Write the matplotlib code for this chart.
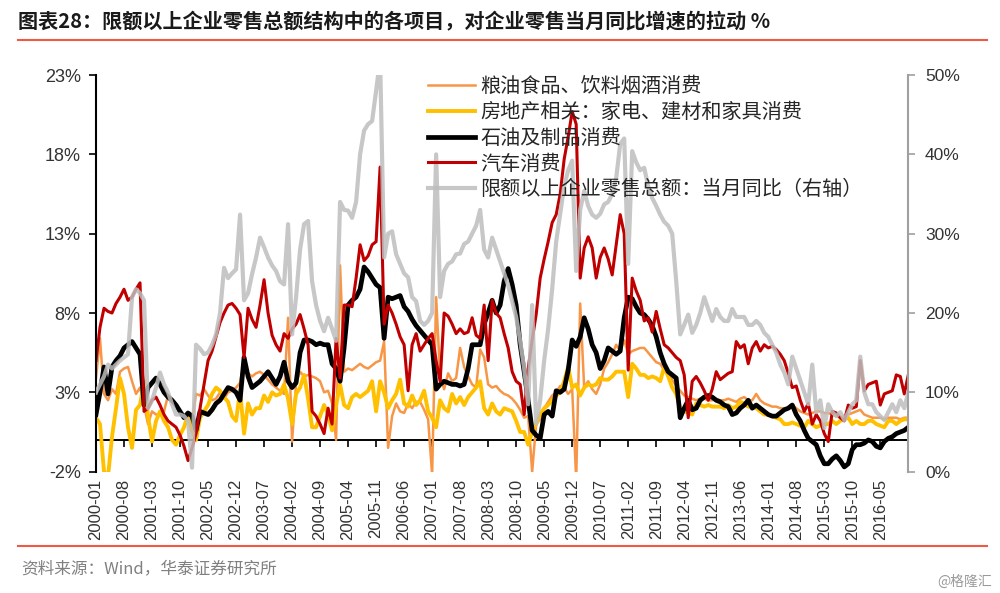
import numpy as np
import pandas as pd
import matplotlib
matplotlib.use('Agg')
import matplotlib.pyplot as plt
from matplotlib.lines import Line2D

plt.rcParams['font.family'] = ['Liberation Sans', 'Noto Sans CJK SC']

# monthly data, 2000-01 .. 2016-12
dates = pd.date_range('2000-01-01', periods=204, freq='MS')

series_names = ['粮油食品、饮料烟酒消费', '房地产相关：家电、建材和家具消费', '石油及制品消费',
                '汽车消费', '限额以上企业零售总额：当月同比（右轴）']

food = [3.9, 6.4, 2.9, 2.5, 3.2, 2.9, 4.3, 4.5, 4.6, 3.7, 2.9, 3.3,
        2.2, 1.0, 1.8, 1.6, 1.6, 1.8, 2.8, 2.6, 2.2, 1.8, 1.5, 1.4,
        1.2, 2.9, 2.8, 3.2, 2.8, 2.5, 2.6, 3.0, 2.6, 3.0, 3.1, 3.3,
        3.6, 5.0, 4.2, 4.0, 4.2, 4.3, 4.1, 3.8, 3.5, 3.3, 3.1, 2.9,
        7.7, -0.1, 3.6, 4.3, 4.0, 4.1, 4.0, 3.9, 3.7, 3.0, 3.1, 2.3,
        0.0, 11.0, 4.3, 4.5, 4.4, 4.6, 4.8, 4.6, 4.5, 4.7, 4.9, 5.0,
        6.2, -0.5, 1.5, 2.3, 1.8, 1.7, 2.3, 2.0, 2.4, 2.4, 1.9, 1.3,
        -2.2, 9.0, 4.0, 3.2, 4.2, 3.7, 3.9, 5.8, 4.6, 4.0, 3.5, 3.3,
        5.7, 5.2, 3.5, 3.3, 3.4, 3.1, 2.9, 2.8, 2.6, 2.3, 1.9, 1.4,
        1.5, -2.0, 1.0, 1.3, 2.0, 2.4, 2.8, 3.0, 3.4, 3.3, 2.9, 3.2,
        -2.5, 8.6, 3.3, 3.7, 3.2, 2.9, 3.5, 4.5, 4.9, 5.4, 6.0, 5.6,
        6.3, 5.4, 5.6, 5.7, 5.8, 5.8, 5.5, 5.2, 4.9, 4.8, 4.4, 4.1,
        3.8, 3.4, 3.1, 2.8, 2.7, 2.6, 2.5, 2.6, 2.6, 2.5, 2.5, 2.6,
        2.5, 2.5, 2.6, 2.5, 2.4, 2.6, 2.7, 2.5, 2.5, 2.9, 2.5, 2.3,
        2.2, 2.1, 2.1, 2.0, 2.0, 2.0, 2.2, 2.0, 1.8, 1.7, 1.6, 1.7,
        1.8, 1.8, 1.7, 1.7, 1.6, 1.5, 1.4, 1.5, 1.6, 1.7, 1.8, 1.9,
        1.6, 1.5, 1.4, 1.4, 1.4, 1.3, 1.4, 1.4, 1.4, 1.3, 1.4, 1.4]

housing = [1.4, 1.0, -2.0, -2.3, 0.2, 2.0, 3.9, 2.9, 0.8, -0.5, 1.9, 2.2,
           3.7, 1.5, -0.1, 1.2, 1.8, 1.2, 0.8, 0.0, -0.3, 0.3, 0.8, 1.6,
           0.6, 0.0, 1.4, 1.8, 2.2, 2.9, 3.3, 3.1, 2.7, 2.4, 1.5, 1.2,
           3.1, 0.4, 2.3, 1.6, 2.0, 2.0, 2.8, 2.4, 3.0, 2.8, 2.9, 3.5,
           2.6, 1.0, 2.9, 3.3, 4.1, 2.6, 0.8, 0.8, 1.5, 2.2, 1.6, 0.6,
           2.2, 3.5, 2.2, 2.0, 2.7, 2.9, 2.7, 2.9, 3.1, 3.7, 1.8, 3.7,
           3.0, 2.0, 2.5, 2.9, 3.8, 2.3, 2.1, 2.8, 2.2, 2.5, 3.1, 1.8,
           1.4, 0.8, 2.5, 2.0, 1.8, 2.9, 2.3, 2.7, 2.2, 2.7, 3.0, 3.3,
           3.7, 2.0, 1.6, 2.3, 1.8, 1.6, 2.0, 1.9, 1.8, 1.2, 0.5, 0.5,
           -0.3, 0.5, 1.0, 1.6, 2.0, 2.2, 2.5, 2.8, 3.0, 3.7, 4.6, 3.3,
           3.5, 2.8, 3.3, 3.5, 3.4, 3.5, 3.9, 3.8, 3.8, 4.0, 4.3, 4.3,
           4.3, 2.7, 4.8, 4.5, 4.1, 4.1, 3.9, 4.0, 3.9, 3.7, 4.6, 4.0,
           3.3, 2.9, 2.0, 1.8, 1.7, 1.6, 2.3, 2.2, 2.1, 2.2, 2.1, 2.1,
           2.1, 2.0, 2.2, 2.0, 2.1, 2.4, 2.3, 2.1, 2.1, 2.0, 1.8, 1.6,
           1.6, 1.5, 1.4, 1.3, 1.0, 1.0, 1.1, 1.0, 0.9, 0.8, 1.2, 1.0,
           0.8, 0.9, 1.0, 1.0, 1.2, 1.0, 1.2, 1.3, 1.4, 1.0, 1.2, 1.0,
           1.0, 1.2, 1.2, 1.0, 0.9, 0.8, 1.2, 1.2, 1.0, 1.2, 1.3, 1.3]

oil = [1.6, 3.0, 4.6, 2.9, 4.6, 5.0, 5.3, 5.8, 6.0, 6.2, 5.8, 5.4,
       2.2, 3.3, 3.6, 3.9, 3.5, 3.0, 2.7, 2.5, 2.2, 1.8, 1.4, 1.7,
       1.5, 0.6, 1.8, 1.7, 1.6, 1.9, 2.3, 2.5, 2.9, 3.3, 3.2, 3.0,
       2.5, 5.2, 4.0, 3.3, 3.5, 3.7, 4.0, 4.3, 3.9, 3.5, 4.0, 4.9,
       3.7, 3.3, 3.6, 5.5, 6.3, 6.3, 6.2, 6.0, 6.1, 6.0, 6.0, 4.8,
       4.5, 3.7, 5.8, 8.5, 8.8, 9.0, 9.5, 10.9, 10.6, 10.2, 9.8, 9.6,
       6.4, 9.0, 8.9, 9.0, 9.1, 8.4, 8.1, 7.6, 7.2, 6.9, 6.6, 6.3,
       6.0, 3.2, 3.5, 3.7, 3.6, 3.5, 3.5, 3.4, 3.5, 4.5, 6.0, 6.0,
       6.0, 7.3, 8.0, 8.8, 8.0, 8.5, 10.0, 10.8, 9.8, 8.5, 6.0, 4.3,
       2.5, 0.6, 0.3, 0.1, 1.6, 1.8, 1.5, 3.1, 3.0, 3.2, 4.4, 6.3,
       5.9, 6.5, 7.7, 7.0, 6.0, 5.5, 4.5, 5.0, 5.8, 5.6, 5.4, 5.6,
       7.7, 9.0, 8.9, 8.4, 8.0, 7.9, 7.6, 7.2, 6.5, 5.5, 4.8, 4.3,
       4.1, 3.9, 1.4, 2.0, 2.5, 1.9, 2.0, 2.5, 2.7, 2.8, 2.7, 2.5,
       2.4, 2.2, 2.1, 1.6, 1.7, 2.0, 2.2, 2.5, 2.0, 2.2, 2.0, 1.8,
       1.6, 1.5, 1.5, 1.7, 1.9, 2.0, 2.2, 1.6, 1.2, 0.6, 0.1, -0.1,
       -0.3, -1.0, -1.5, -1.5, -1.2, -1.0, -1.3, -1.7, -1.5, -0.6, -0.3, -0.3,
       -0.2, 0.0, -0.1, -0.4, -0.5, -0.1, 0.1, 0.2, 0.4, 0.5, 0.6, 0.8]

auto = [5.0, 7.1, 8.3, 8.1, 8.0, 8.6, 9.0, 9.5, 8.8, 9.0, 9.5, 9.9,
        1.8, 2.0, 2.5, 2.7, 2.2, 1.6, 1.2, 1.0, 0.8, 0.3, -0.4, -1.3,
        -0.5, 0.4, 2.0, 3.5, 5.0, 5.6, 6.5, 7.4, 8.0, 8.5, 8.6, 8.3,
        7.9, 5.2, 8.3, 7.6, 7.1, 8.5, 10.1, 8.0, 6.6, 6.0, 5.6, 6.7,
        6.4, 7.0, 7.3, 7.9, 7.0, 6.0, 1.8, 1.5, 1.0, 0.4, 2.0, 1.0,
        6.4, 3.9, 8.5, 8.5, 8.4, 10.2, 12.3, 11.3, 11.6, 12.3, 12.5, 17.2,
        7.3, 8.5, 8.0, 7.3, 6.5, 6.0, 3.1, 6.0, 6.7, 5.6, 6.0, 6.4,
        6.7, 5.0, 3.7, 8.0, 7.8, 7.3, 6.7, 7.0, 6.7, 6.8, 7.7, 6.6,
        6.4, 8.5, 5.0, 8.8, 8.0, 7.7, 6.7, 5.8, 4.3, 3.7, 3.5, 1.6,
        4.5, 6.3, 7.9, 10.2, 11.4, 12.5, 13.7, 14.2, 15.5, 17.7, 19.1, 20.7,
        19.9, 10.2, 12.1, 12.8, 12.1, 10.2, 11.5, 12.1, 11.4, 10.4, 12.3, 14.2,
        13.0, 4.4, 10.2, 9.4, 8.8, 7.5, 7.7, 6.8, 8.1, 7.0, 6.0, 5.8,
        5.5, 5.2, 5.0, 4.1, 1.4, 3.7, 4.0, 3.6, 3.1, 2.5, 3.2, 4.3,
        3.8, 4.0, 4.2, 4.3, 6.2, 5.8, 6.0, 4.8, 5.8, 6.2, 5.6, 6.0,
        5.8, 5.9, 5.7, 5.4, 5.0, 4.2, 3.3, 3.4, 2.5, 1.8, 2.3, 1.0,
        1.6, 1.2, 0.4, -0.1, 1.8, 1.7, 1.4, 1.2, 2.2, 2.0, 2.1, 5.0,
        3.1, 3.5, 3.6, 3.7, 2.2, 2.9, 3.0, 3.1, 4.1, 4.0, 2.9, 4.1]

total = [10, 11, 12, 13.5, 13, 13.5, 14, 14.4, 14.8, 22, 23, 22.5,
         21.6, 8, 9, 10.6, 12.5, 11, 10, 8.5, 7.2, 7.2, 7, 6.4,
         0.5, 16, 15.5, 14.8, 15, 16, 17.3, 20, 25.7, 24.4, 25, 25.5,
         32.4, 21.6, 22.5, 24.9, 27, 29.5, 28.3, 27, 26, 25.3, 24, 23.6,
         31.2, 17.3, 22, 28, 31.2, 31.6, 24, 21, 19, 17.7, 19.4, 18,
         16.5, 34, 33, 32.9, 32, 34, 40, 43, 43.8, 44.2, 48, 52,
         27, 30, 30.3, 27.4, 26.2, 25, 24.5, 22, 21.5, 19, 18.5, 19,
         20, 40, 22, 25.3, 26.2, 26.5, 27.4, 27.5, 28.7, 29, 30, 31,
         33, 28, 27, 29.5, 28, 26.5, 25, 23.5, 21.5, 19.5, 16.5, 13,
         8.5, 21, 6, 9, 14, 18, 23, 29, 32.5, 36, 38, 39.2,
         25.3, 33, 35.4, 33.5, 32.4, 32, 32.5, 33.7, 34, 35, 37, 41.3,
         42, 26.2, 40.4, 39, 38, 38.3, 36, 34.5, 33.5, 32.4, 31.5, 31,
         30, 24, 17.3, 18.5, 19.8, 17.5, 18.5, 20, 22, 20.5, 19, 20.5,
         19.5, 19, 19, 20.5, 19.5, 19.5, 19.5, 18.5, 18.5, 19, 18.5, 17.5,
         17, 16, 15, 13.5, 12.5, 11, 14.5, 13, 11.5, 10, 8.5, 13.5,
         7.5, 9, 5.5, 8.5, 7.5, 7, 7.5, 6.5, 7.5, 8.5, 9, 14.5,
         10, 8.5, 8.5, 7.5, 7, 6.5, 7.5, 8.5, 7.5, 9, 8, 10]

tick_labels = ['2000-01', '2000-08', '2001-03', '2001-10', '2002-05', '2002-12', '2003-07',
               '2004-02', '2004-09', '2005-04', '2005-11', '2006-06', '2007-01', '2007-08',
               '2008-03', '2008-10', '2009-05', '2009-12', '2010-07', '2011-02', '2011-09',
               '2012-04', '2012-11', '2013-06', '2014-01', '2014-08', '2015-03', '2015-10',
               '2016-05']
left_ticks = [-2, 3, 8, 13, 18, 23]
right_ticks = [0, 10, 20, 30, 40, 50]

x = np.arange(len(dates))
tick_pos = [dates.get_loc(pd.Timestamp(t + '-01')) for t in tick_labels]

fig = plt.figure(figsize=(10, 5.93), dpi=100)
ax = fig.add_axes([0.096, 0.2046, 0.8123, 0.6689])
ax2 = ax.twinx()

l1, = ax.plot(x, food, color='#F79646', lw=1.8, label=series_names[0])
l2, = ax.plot(x, housing, color='#FFC000', lw=2.8, label=series_names[1])
l3, = ax.plot(x, oil, color='black', lw=3.4, label=series_names[2])
l4, = ax.plot(x, auto, color='#C00000', lw=2.2, label=series_names[3])
l5, = ax2.plot(x, total, color='#BDBDBD', lw=3.0, alpha=0.85, label=series_names[4])

ax.set_xlim(0, len(x) - 1)
ax.set_ylim(-2, 23)
ax2.set_ylim(0, 50)

ax.set_yticks(left_ticks, [f'{v}%' for v in left_ticks])
ax2.set_yticks(right_ticks, [f'{v}%' for v in right_ticks])
ax.tick_params(axis='y', direction='out', length=5, width=1.2, color='black',
               labelsize=13, labelcolor='#333333', pad=6)
ax2.tick_params(axis='y', direction='out', length=5, width=1.2, color='#A0A0A0',
                labelsize=12.5, labelcolor='#333333', pad=7)

for s in ['top', 'right']:
    ax.spines[s].set_visible(False)
ax.spines['left'].set_linewidth(1.5)
ax.spines['bottom'].set_position(('data', 0))
ax.spines['bottom'].set_linewidth(1.4)
ax.spines['bottom'].set_zorder(1)
ax.set_xticks(tick_pos)
ax.tick_params(axis='x', direction='out', length=5, width=1.2, labelbottom=False)

for s in ['top', 'left', 'bottom']:
    ax2.spines[s].set_visible(False)
ax2.spines['right'].set_color('#A0A0A0')
ax2.spines['right'].set_linewidth(1.5)

sec = ax.secondary_xaxis('bottom')
sec.set_xticks(tick_pos, labels=tick_labels)
sec.spines['bottom'].set_visible(False)
sec.tick_params(length=0, rotation=90, labelsize=12, labelcolor='#333333', pad=5)

leg = ax2.legend(handles=[l1, l2, l3, l4, l5], loc='upper left', bbox_to_anchor=(0.409, 0.997),
                 frameon=False, fontsize=14.5, handlelength=2.3, handletextpad=0.3,
                 labelspacing=0.33, borderpad=0, borderaxespad=0)
for t in leg.get_texts():
    t.set_color('#262626')

fig.text(0.018, 1 - 22 / 593, '图表28：限额以上企业零售总额结构中的各项目，对企业零售当月同比增速的拉动 %',
         fontsize=14.5, fontweight='bold', va='center', color='#1a1a1a',
         family=['Noto Sans CJK SC', 'DejaVu Sans'])
fig.add_artist(Line2D([0.018, 0.987], [1 - 40 / 593] * 2, color='#EE5A45', lw=1.5))
fig.add_artist(Line2D([0.018, 0.987], [1 - 546 / 593] * 2, color='#EE5A45', lw=1.5))
fig.text(0.021, 1 - 569 / 593, '资料来源：Wind，华泰证券研究所', fontsize=12, color='#808080',
         va='center', family=['Noto Sans CJK SC', 'DejaVu Sans'])
fig.text(0.992, 1 - 582 / 593, '@格隆汇', fontsize=10, color='#9a9a9a', ha='right',
         va='center', family=['Noto Sans CJK SC', 'DejaVu Sans'])

fig.savefig('out.png', dpi=100)
